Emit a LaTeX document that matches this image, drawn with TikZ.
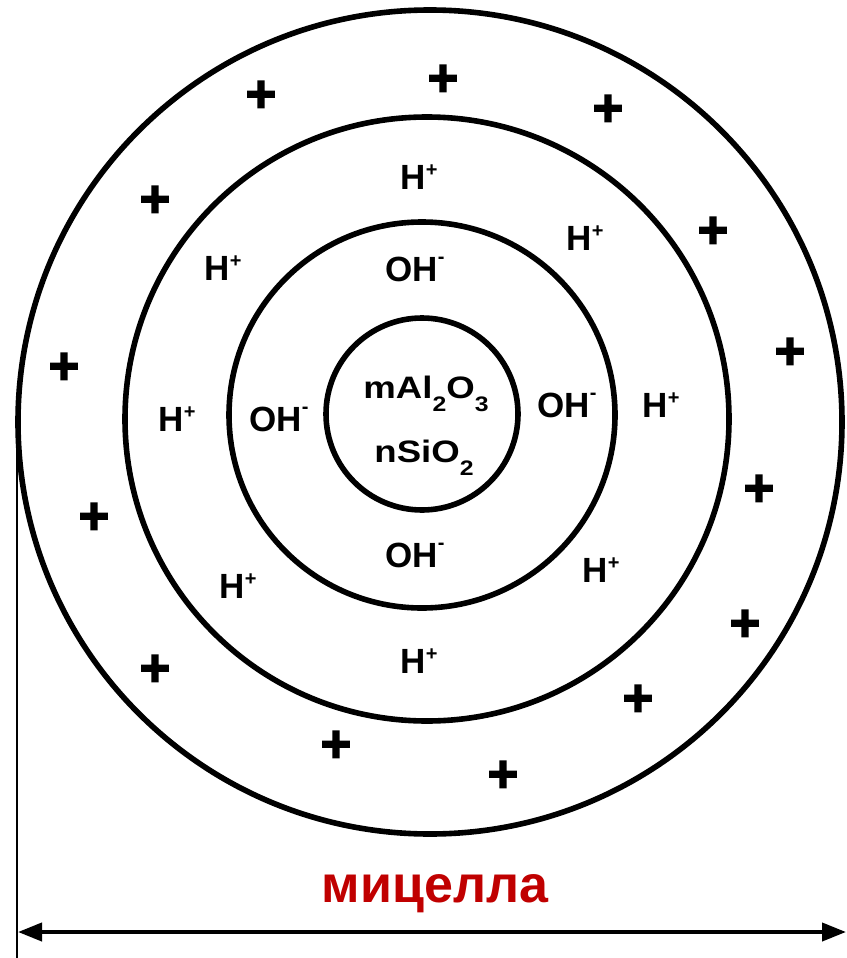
\documentclass[tikz,border=0pt]{standalone}
\usepackage{fontspec}
\setmainfont{Liberation Sans}
\newfontfamily\plusfont{Liberation Sans}[BoldFeatures={FakeBold=3}]
\usetikzlibrary{arrows.meta}
\definecolor{micred}{HTML}{C00000}
\newcommand\chsup[1]{\raisebox{0.36em}{\fontsize{20}{20}\selectfont #1}}
\newcommand\chminus{\raisebox{0.5em}{\fontsize{20}{20}\selectfont -}}
\newcommand\chsub[1]{\raisebox{-0.45em}{\fontsize{21}{21}\selectfont #1}}
\newcommand\corewide[1]{\scalebox{1.18}[1]{#1}}
\begin{document}
\begin{tikzpicture}[x=1pt,y=-1pt,
  ring/.style={line width=5.6pt},
  ion/.style={font=\fontsize{35}{35}\selectfont\bfseries, anchor=base, inner sep=0pt},
  core/.style={font=\fontsize{31}{31}\selectfont\bfseries, anchor=base, inner sep=0pt},
  charge/.style={font=\plusfont\fontsize{52}{52}\selectfont\bfseries, anchor=base, inner sep=0pt, yshift=-18.6pt},
  caption/.style={font=\fontsize{52}{52}\selectfont\bfseries, text=micred, anchor=base, inner sep=0pt},
  dimline/.style={line width=4pt, {Triangle[length=24pt,width=18pt]}-{Triangle[length=24pt,width=18pt]}},
  tickline/.style={line width=1.5pt}]
\useasboundingbox (0,0) rectangle (846,958);
% rings
\coordinate (c1) at (422,414);
\coordinate (c2) at (422,415);
\coordinate (c3) at (427,419);
\coordinate (c4) at (430,422);
\draw[ring] (c1) circle[radius=96pt];
\draw[ring] (c2) circle[radius=193pt];
\draw[ring] (c3) circle[radius=302pt];
\draw[ring] (c4) circle[radius=412pt];
% core
\node[core] (core1) at (426,398) {\corewide{mAl\chsub{2}O\chsub{3}}};
\node[core] (core2) at (424,462) {\corewide{nSiO\chsub{2}}};
% OH- layer
\node[ion] (oh1) at (415,281) {OH\chminus};
\node[ion] (oh2) at (279,431) {OH\chminus};
\node[ion] (oh3) at (567,417) {OH\chminus};
\node[ion] (oh4) at (415,567) {OH\chminus};
% H+ layer
\node[ion] (h1) at (419,189) {H\chsup{+}};
\node[ion] (h2) at (585,250) {H\chsup{+}};
\node[ion] (h3) at (223,280) {H\chsup{+}};
\node[ion] (h4) at (177,431) {H\chsup{+}};
\node[ion] (h5) at (661,417) {H\chsup{+}};
\node[ion] (h6) at (601,582) {H\chsup{+}};
\node[ion] (h7) at (238,598) {H\chsup{+}};
\node[ion] (h8) at (419,673) {H\chsup{+}};
% diffuse layer charges
\foreach \px/\py [count=\i] in {443/77, 261/93, 608/107, 155/198, 713/229, 64/365, 790/350, 759/487,
  94/515, 745/622, 155/667, 638/697, 336/743, 503/773}
  \node[charge] (p\i) at (\px,\py) {+};
% dimension
\node[caption] (cap) at (435,902) {мицелла};
\coordinate (aL) at (18,932);
\coordinate (aR) at (846,932);
\coordinate (t1) at (17,430);
\coordinate (t2) at (17,958);
\draw[tickline] (t1) -- (t2);
\draw[dimline] (aL) -- (aR);
\end{tikzpicture}
\end{document}
